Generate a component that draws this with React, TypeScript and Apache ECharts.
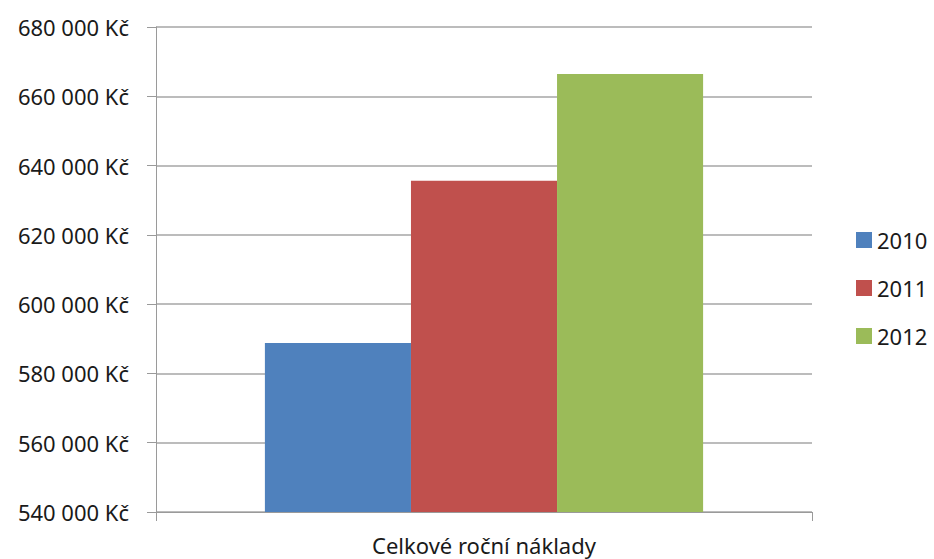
import React, { useEffect, useRef } from "react";
import * as echarts from "echarts";

const categories = ["Celkové roční náklady"];
const seriesNames = ["2010", "2011", "2012"];
const values2010 = [588800];
const values2011 = [635600];
const values2012 = [666400];
const seriesValues = [values2010, values2011, values2012];
const seriesColors = ["#4F81BD", "#C0504D", "#9BBB59"];
const yMin = 540000;
const yMax = 680000;
const yInterval = 20000;

const FONT = "'Noto Sans', 'DejaVu Sans', sans-serif";

function fmt(v: number): string {
  const s = String(Math.round(v));
  return s.replace(/\B(?=(\d{3})+(?!\d))/g, " ") + " Kč";
}

export default function App() {
  const ref = useRef<HTMLDivElement>(null);
  useEffect(() => {
    if (!ref.current) return;
    const chart = echarts.init(ref.current, undefined, { renderer: "svg" });
    chart.setOption({
      animation: false,
      backgroundColor: "#ffffff",
      textStyle: { fontFamily: FONT },
      grid: { left: 156, right: 122, top: 27, bottom: 47, containLabel: false },
      legend: {
        orient: "vertical",
        left: 851,
        top: 223,
        itemWidth: 16,
        itemHeight: 16,
        itemGap: 24,
        icon: "rect",
        data: seriesNames,
        textStyle: { fontFamily: FONT, fontSize: 22, color: "#1a1a1a", lineHeight: 24 },
      },
      xAxis: {
        type: "category",
        data: categories,
        axisLine: { show: true, lineStyle: { color: "#9a9a9a", width: 1 } },
        axisTick: { show: true, length: 9, alignWithLabel: false, lineStyle: { color: "#9a9a9a" } },
        axisLabel: { fontFamily: FONT, fontSize: 22, color: "#1a1a1a", margin: 22 },
        splitLine: { show: false },
      },
      yAxis: {
        type: "value",
        min: yMin,
        max: yMax,
        interval: yInterval,
        axisLine: { show: true, lineStyle: { color: "#9a9a9a", width: 1 } },
        axisTick: { show: true, length: 9, lineStyle: { color: "#9a9a9a" } },
        axisLabel: {
          fontFamily: FONT,
          fontSize: 22,
          color: "#1a1a1a",
          margin: 27,
          formatter: (v: number) => fmt(v),
        },
        splitLine: { show: true, lineStyle: { color: "#a6a6a6", width: 1.5 } },
      },
      series: seriesNames.map((name, i) => ({
        name,
        type: "bar",
        data: seriesValues[i],
        barGap: "0%",
        barCategoryGap: "33.2%",
        itemStyle: { color: seriesColors[i] },
      })),
    });
    return () => chart.dispose();
  }, []);
  return (
    <div
      ref={ref}
      style={{ position: "fixed", left: 0, top: 0, width: 934, height: 559 }}
    />
  );
}
